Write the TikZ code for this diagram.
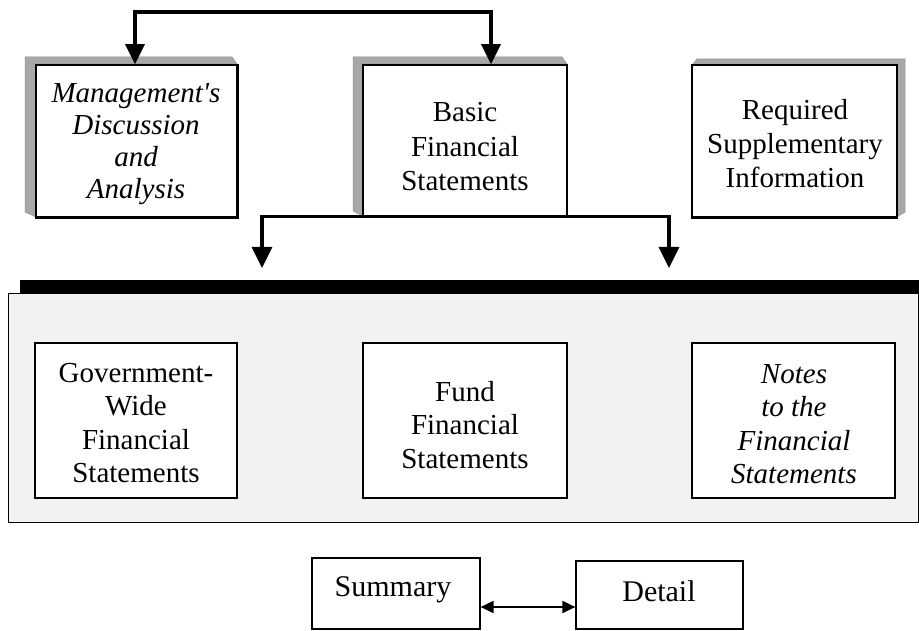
\documentclass[tikz,border=0pt]{standalone}
\usepackage{fontspec}
\setmainfont{Liberation Serif}
\usetikzlibrary{arrows.meta,calc}
\begin{document}
\begin{tikzpicture}[x=1pt,y=-1pt,
  box/.style={draw,line width=1.2pt,fill=white,inner sep=0pt},
  txt/.style={align=center,font=\fontsize{29}{33}\selectfont,inner sep=0pt},
  bevel/.style={fill=gray!68,draw=gray!85,line width=0.5pt},
  conn/.style={line width=3.2pt,-{Triangle[width=20pt,length=21pt]}},
  conntwo/.style={line width=3.2pt,{Triangle[width=19pt,length=20pt]}-{Triangle[width=19pt,length=20pt]}},
  dbl/.style={line width=2pt,{Triangle[width=12pt,length=13pt]}-{Triangle[width=12pt,length=13pt]}},
]
\useasboundingbox (0,0) rectangle (919,631);

% bevels of the top boxes
\path[bevel] (25,57) -- (232,57) -- (237,64) -- (36,64) -- (36,217) -- (25,212) -- cycle;
\path[bevel] (353,57) -- (562,57) -- (567,64) -- (363,64) -- (363,216) -- (353,211) -- cycle;
\path[bevel] (697,59) -- (905,59) -- (905,212) -- (897,217) -- (897,65) -- (692,65) -- cycle;

% top boxes
\node[box,line width=1.5pt,minimum width=201pt,minimum height=152pt] (mda) at (136.5,141) {};
\node[box,line width=1.5pt,minimum width=204pt,minimum height=151pt] (basic) at (465,140.5) {};
\node[box,line width=1.5pt,minimum width=205pt,minimum height=152pt] (rsi) at (794.5,141) {};
\draw[line width=2pt] (mda.north east) -- (mda.south east) -- (mda.south west);
\draw[line width=2pt] (rsi.south west) -- (rsi.south east);

\node[txt,font=\fontsize{29}{32}\itshape] (mdat) at (136,144) {Management\textquotesingle s\\Discussion\\and\\Analysis};
\node[txt,font=\fontsize{29}{34.5}\selectfont] (basict) at (465,147) {Basic\\Financial\\Statements};
\node[txt,font=\fontsize{29}{34}\selectfont] (rsit) at (795,144) {Required\\Supplementary\\Information};

% bar and panel
\node[fill=black,inner sep=0pt,minimum width=899pt,minimum height=13pt] (bar) at (469.5,286.5) {};
\node[draw,line width=0.8pt,fill=gray!10,inner sep=0pt,minimum width=910pt,minimum height=229pt] (panel) at (463,407.5) {};

% inner boxes
\node[box,minimum width=202pt,minimum height=155pt] (gov) at (136,420.5) {};
\node[box,minimum width=204pt,minimum height=155pt] (fund) at (465,420.5) {};
\node[box,minimum width=203pt,minimum height=155pt] (notes) at (793.5,420.5) {};
\node[txt,font=\fontsize{29}{33.5}\selectfont] (govt) at (136,423) {Government-\\Wide\\Financial\\Statements};
\node[txt,font=\fontsize{29}{33.5}\selectfont] (fundt) at (465,425) {Fund\\Financial\\Statements};
\node[txt,font=\fontsize{29}{33.5}\itshape] (notest) at (794,424) {Notes\\to the\\Financial\\Statements};

% summary / detail
\node[box,minimum width=168pt,minimum height=71pt] (summary) at (396,593.5) {};
\node[box,minimum width=167pt,minimum height=68pt] (detail) at (659.5,595) {};
\node[txt,font=\fontsize{30}{33}\selectfont] (summaryt) at (393,590) {Summary};
\node[txt,font=\fontsize{30}{33}\selectfont] (detailt) at (659,591) {Detail};

% connectors
\coordinate (tl) at (135,12);
\coordinate (tr) at (491,12);
\draw[conntwo] (mda.north -| tl) -- (tl) -- (tr) -- (basic.north -| tr);
\coordinate (al) at (262,268);
\coordinate (ar) at (669,268);
\draw[conn] (basic.south) -| (al);
\draw[conn] (basic.south) -| (ar);
\coordinate (sd) at (0,607);
\draw[dbl] (summary.east |- sd) -- (detail.west |- sd);
\end{tikzpicture}
\end{document}
